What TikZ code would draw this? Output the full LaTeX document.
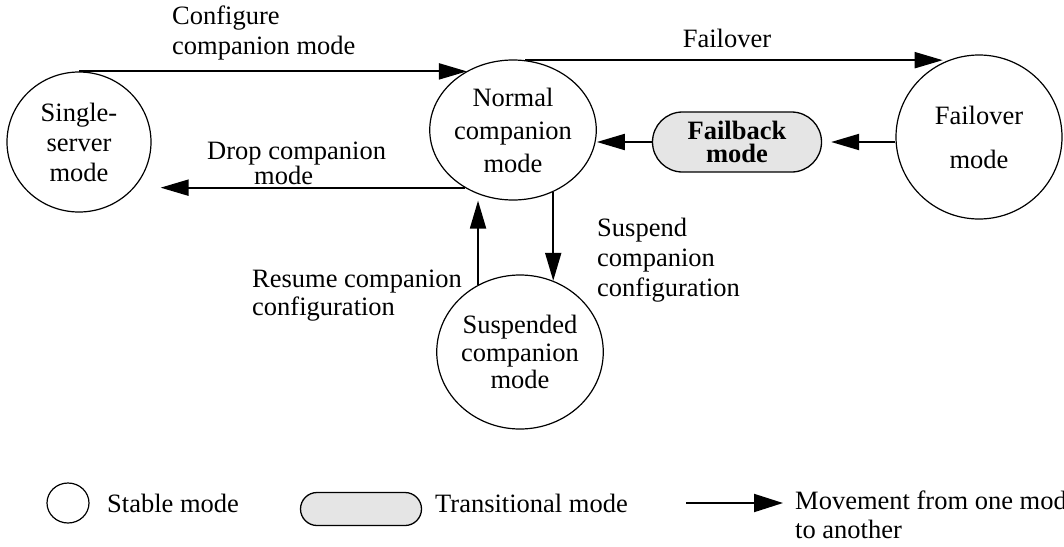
\documentclass[tikz,border=0pt]{standalone}
\usepackage{fontspec}
\setmainfont{Liberation Serif}
\usetikzlibrary{arrows.meta,shapes.geometric,shapes.misc}
\begin{document}
\begin{tikzpicture}[x=1pt,y=-1pt,
	every node/.style={font=\fontsize{26.5}{30}\selectfont, inner sep=0pt},
	stable/.style={draw, ellipse, line width=1.2pt, align=center},
	transit/.style={draw, rounded rectangle, line width=1.3pt, fill=black!10, align=center},
	move/.style={line width=2pt, -{Triangle[length=28pt,width=16pt]}},
	note/.style={align=left}
]
	\useasboundingbox (0,0) rectangle (1064,546);

	\node[stable, minimum width=144pt, minimum height=140pt] (single) at (79,142) {Single-\\server\\mode};
	\node[stable, minimum width=163pt, minimum height=140pt, font=\fontsize{26.5}{33}\selectfont] (normal) at (513,130) {Normal\\companion\\mode};
	\node[stable, minimum width=166pt, minimum height=164pt] (failover) at (979,137) {Failover\\[14pt]mode};
	\node[stable, minimum width=165pt, minimum height=154pt, font=\fontsize{26.5}{27.5}\selectfont] (suspended) at (520,352) {Suspended\\companion\\mode};
	\node[transit, minimum width=169pt, minimum height=60pt, font=\bfseries\fontsize{26.5}{22.5}\selectfont] (failback) at (737,142) {Failback\\mode};

	\draw[move] (single.north) -- (single.north -| normal.128);
	\draw[move] (normal.80) -- (normal.80 -| failover.116);
	\draw[move, shorten >=9pt] (failover.west |- failback.east) -- (failback.east);
	\draw[move] (failback.west) -- (failback.west -| normal.east);
	\draw[move, shorten >=9pt] (normal.230) -- (normal.230 -| single.east);
	\draw[move] (normal.-57) -- (normal.-57 |- suspended.65);
	\draw[move] (suspended.122) -- (suspended.122 |- normal.south);

	\node[note, anchor=west] (configlbl) at (172,33) {Configure\\companion mode};
	\node (failoverlbl) at (727,38) {Failover};
	\node[note, anchor=west, font=\fontsize{26.5}{21}\selectfont] (droplbl) at (207,163) {Drop companion\\\hspace*{47pt}mode};
	\node[note, anchor=west] (suspendlbl) at (597,260) {Suspend\\companion\\configuration};
	\node[note, anchor=west, font=\fontsize{26.5}{28}\selectfont] (resumelbl) at (252,296) {Resume companion\\configuration};

	\node[stable, minimum width=42pt, minimum height=40pt] (stablekey) at (68,503) {};
	\node[anchor=west] (stabletxt) at (107,503) {Stable mode};
	\node[transit, minimum width=121pt, minimum height=33pt] (transkey) at (361,509) {};
	\node[anchor=west] (transtxt) at (435,503) {Transitional mode};
	\coordinate (movefrom) at (686,503);
	\coordinate (moveto) at (783,503);
	\draw[move, -{Triangle[length=29pt,width=18pt]}] (movefrom) -- (moveto);
	\node[note, anchor=north west, font=\fontsize{26.5}{29}\selectfont] (movetxt) at (795,491) {Movement from one mode\\to another};
\end{tikzpicture}
\end{document}
